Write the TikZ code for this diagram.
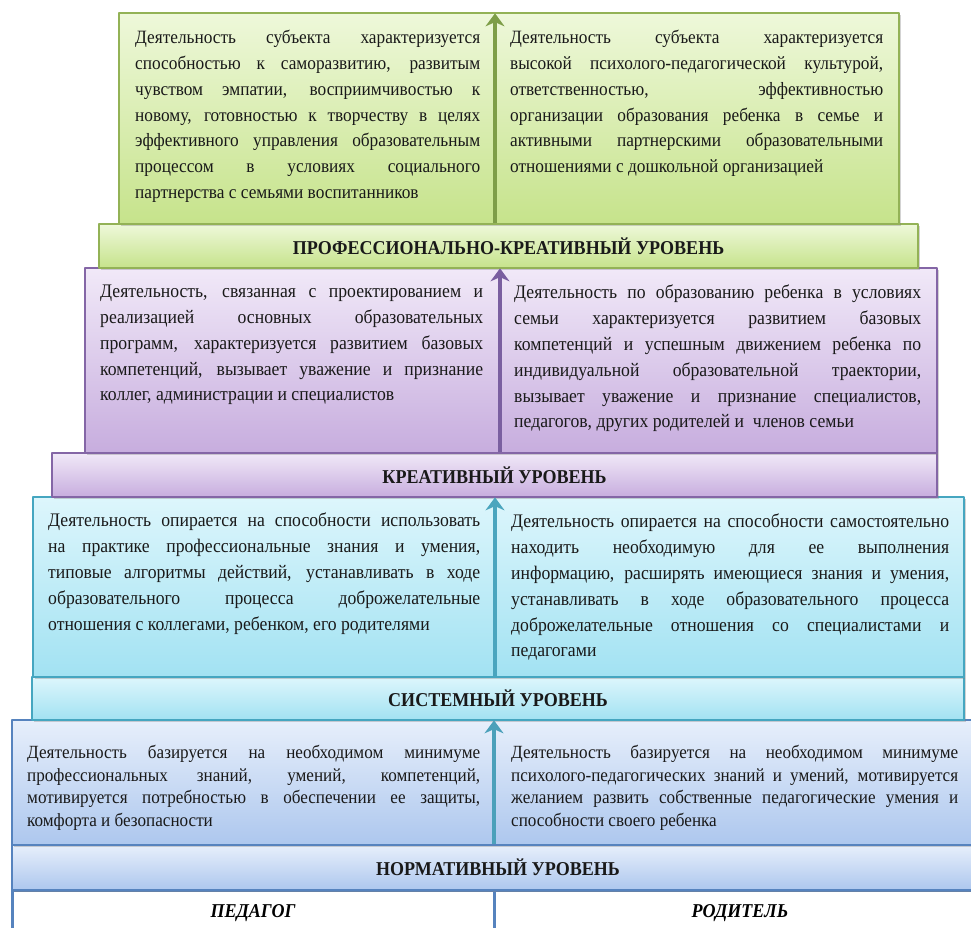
\documentclass[tikz,border=0pt]{standalone}
\usepackage{fontspec}
\setmainfont{Liberation Serif}[FakeStretch=0.92]
\usetikzlibrary{arrows.meta,shadows}
\tolerance=9999 \hbadness=10000 \hfuzz=30pt
\hyphenpenalty=10000 \exhyphenpenalty=10000
% level colours: border, top, bottom, arrow
\definecolor{grnD}{HTML}{93B256}\definecolor{grnT}{HTML}{EEF8DA}\definecolor{grnB}{HTML}{C6E38B}
\definecolor{grnA}{HTML}{7E9E48}
\definecolor{purD}{HTML}{8466A6}\definecolor{purT}{HTML}{F1E9F8}\definecolor{purB}{HTML}{C7ADDE}
\definecolor{purA}{HTML}{7A5FA0}
\definecolor{cyaD}{HTML}{45A6C0}\definecolor{cyaT}{HTML}{DDF6FC}\definecolor{cyaB}{HTML}{A2E2F2}
\definecolor{cyaA}{HTML}{4AA5BE}
\definecolor{bluD}{HTML}{5683BE}\definecolor{bluT}{HTML}{E7EFFB}\definecolor{bluB}{HTML}{ADC7EE}
\definecolor{bluA}{HTML}{4BA0BA}
\begin{document}
\begin{tikzpicture}[x=1pt,y=-1pt,>={Stealth[length=13pt,width=19pt]},line join=round,
	lvl/.style n args={3}{draw=#1,top color=#2,bottom color=#3,line width=1.3pt,inner sep=0pt,
		drop shadow={shadow xshift=1.5pt,shadow yshift=-2pt,opacity=.35}},
	txt/.style={anchor=north west,inner sep=0pt,align=justify,text=black!90,
		font=\fontsize{19.2}{25.8}\selectfont},
	ttl/.style={text=black!90,font=\fontsize{19.6}{22}\selectfont\bfseries},
	uparr/.style={->,line width=3.6pt,draw=#1,shorten >=1pt}]
	\useasboundingbox (0,0) rectangle (971,928);
	\clip (0,0) rectangle (971,928);
	\path (495,0) coordinate (ga) (500,0) coordinate (pa)
	(495,0) coordinate (ca) (494,0) coordinate (ba);
	% bottom: who
	\node[draw=bluD,line width=3pt,fill=white,minimum width=482,minimum height=46,
		font=\fontsize{19.6}{22}\selectfont\bfseries\itshape] (ped) at (253,913) {ПЕДАГОГ};
	\node[draw=bluD,line width=3pt,fill=white,minimum width=492,minimum height=46,
		font=\fontsize{19.6}{22}\selectfont\bfseries\itshape] (rod) at (740,913) {РОДИТЕЛЬ};
	% levels, from the bottom up
	\node[lvl={bluD}{bluT}{bluB},ttl,minimum width=972,minimum height=45] (bband) at (498,867.5) {НОРМАТИВНЫЙ УРОВЕНЬ};
	\node[lvl={bluD}{bluT}{bluB},minimum width=972,minimum height=125] (bbox) at (498,782.5) {};
	\node[lvl={cyaD}{cyaT}{cyaB},ttl,minimum width=932,minimum height=43] (cband) at (498,698.5) {СИСТЕМНЫЙ УРОВЕНЬ};
	\node[lvl={cyaD}{cyaT}{cyaB},minimum width=931,minimum height=180] (cbox) at (498.5,587) {};
	\node[lvl={purD}{purT}{purB},ttl,minimum width=885,minimum height=44] (pband) at (494.5,475) {КРЕАТИВНЫЙ УРОВЕНЬ};
	\node[lvl={purD}{purT}{purB},minimum width=852,minimum height=185] (pbox) at (511,360.5) {};
	\node[lvl={grnD}{grnT}{grnB},ttl,minimum width=819,minimum height=44] (gband) at (508.5,246) {ПРОФЕССИОНАЛЬНО-КРЕАТИВНЫЙ УРОВЕНЬ};
	\node[lvl={grnD}{grnT}{grnB},minimum width=780,minimum height=211] (gbox) at (509,118.5) {};
	% texts
	\node[txt,text width=345,font=\fontsize{18.8}{25.8}\selectfont] (gL) at (135,30) {Деятельность субъекта характеризуется\linebreak
		способностью к саморазвитию, развитым\linebreak чувством эмпатии, восприимчивостью к\linebreak
		новому, готовностью к творчеству в целях\linebreak эффективного управления образовательным\linebreak
		процессом в условиях социального\linebreak партнерства с семьями воспитанников};
	\node[txt,text width=373,font=\fontsize{18.8}{25.8}\selectfont] (gR) at (510,30) {Деятельность субъекта характеризуется\linebreak
		высокой психолого-педагогической культурой,\linebreak ответственностью, эффективностью\linebreak
		организации образования ребенка в семье и\linebreak активными партнерскими образовательными\linebreak
		отношениями с дошкольной организацией};
	\node[txt,text width=383] (pL) at (100,285) {Деятельность, связанная с проектированием и\linebreak
		реализацией основных образовательных\linebreak программ, характеризуется развитием базовых\linebreak
		компетенций, вызывает уважение и признание\linebreak коллег, администрации и специалистов};
	\node[txt,text width=407] (pR) at (514,285) {Деятельность по образованию ребенка в условиях\linebreak
		семьи характеризуется развитием базовых\linebreak компетенций и успешным движением ребенка по\linebreak
		индивидуальной образовательной траектории,\linebreak вызывает уважение и признание специалистов,\linebreak
		педагогов, других родителей и~ членов семьи};
	\node[txt,text width=432] (cL) at (48,513) {Деятельность опирается на способности использовать\linebreak
		на практике профессиональные знания и умения,\linebreak типовые алгоритмы действий, устанавливать в ходе\linebreak
		образовательного процесса доброжелательные\linebreak отношения с коллегами, ребенком, его родителями};
	\node[txt,text width=438] (cR) at (511,514) {Деятельность опирается на способности самостоятельно\linebreak
		находить необходимую для ее выполнения\linebreak информацию, расширять имеющиеся знания и умения,\linebreak
		устанавливать в ходе образовательного процесса\linebreak доброжелательные отношения со специалистами и\linebreak
		педагогами};
	\node[txt,text width=453,font=\fontsize{18.6}{22.7}\selectfont] (bL) at (27,745) {Деятельность базируется на необходимом минимуме\linebreak
		профессиональных знаний, умений, компетенций,\linebreak мотивируется потребностью в обеспечении ее защиты,\linebreak
		комфорта и безопасности};
	\node[txt,text width=447,font=\fontsize{18.6}{22.7}\selectfont] (bR) at (511,745) {Деятельность базируется на необходимом минимуме\linebreak
		психолого-педагогических знаний и умений, мотивируется\linebreak желанием развить собственные педагогические умения и\linebreak
		способности своего ребенка};
	% arrows up
	\draw[uparr=grnA] (gband.north -| ga) -- (gbox.north -| ga);
	\draw[uparr=purA] (pband.north -| pa) -- (pbox.north -| pa);
	\draw[uparr=cyaA] (cband.north -| ca) -- (cbox.north -| ca);
	\draw[uparr=bluA] (bband.north -| ba) -- (bbox.north -| ba);
\end{tikzpicture}
\end{document}
